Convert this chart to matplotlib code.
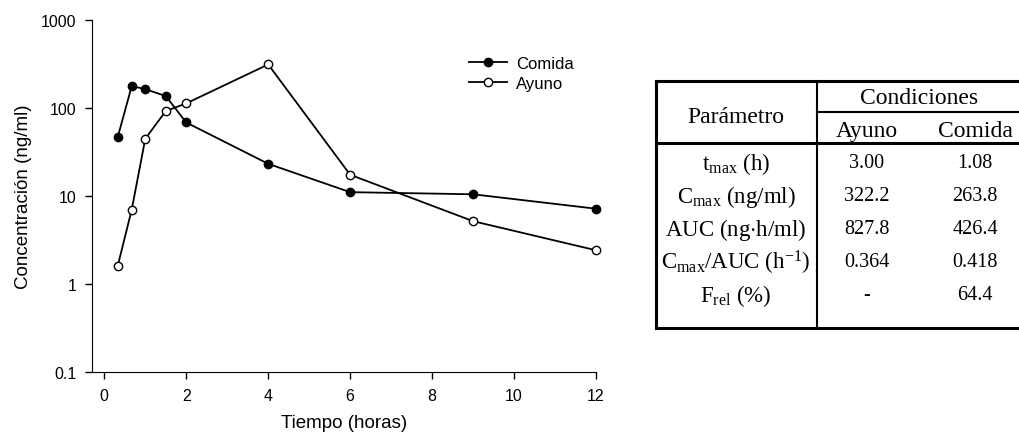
import numpy as np
import matplotlib
matplotlib.use("Agg")
import matplotlib.pyplot as plt

# === Data ===
tiempo = [0.33, 0.67, 1.0, 1.5, 2.0, 4.0, 6.0, 9.0, 12.0]
comida = [47.2, 178, 164, 137, 68.6, 23.3, 11.1, 10.5, 7.2]
ayuno = [1.63, 7.04, 44.8, 92.5, 113, 313, 17.5, 5.2, 2.43]

x_ticks = [0, 2, 4, 6, 8, 10, 12]
y_ticks = [0.1, 1, 10, 100, 1000]
y_ticklabels = ["0.1", "1", "10", "100", "1000"]

param_labels = [r"t$_{\mathrm{max}}$ (h)",
                r"C$_{\mathrm{max}}$ (ng/ml)",
                r"AUC (ng$\cdot$h/ml)",
                r"C$_{\mathrm{max}}$/AUC (h$^{\mathrm{-1}}$)",
                r"F$_{\mathrm{rel}}$ (%)"]
col_ayuno = ["3.00", "322.2", "827.8", "0.364", "-"]
col_comida = ["1.08", "263.8", "426.4", "0.418", "64.4"]

plt.rcParams["font.family"] = ["Liberation Sans", "DejaVu Sans"]
plt.rcParams["mathtext.fontset"] = "custom"
plt.rcParams["mathtext.rm"] = "Liberation Serif"
plt.rcParams["mathtext.it"] = "Liberation Serif:italic"

W, H = 1019, 439
fig = plt.figure(figsize=(W / 100, H / 100), dpi=100)

# === Plot ===
ax = fig.add_axes([92 / W, 1 - 373.3 / H, (596 - 92) / W, (373.3 - 21) / H])
ax.plot(tiempo, comida, color="black", lw=1.3, marker="o", ms=6,
        mfc="black", mec="black", mew=1, label="Comida", clip_on=False)
ax.plot(tiempo, ayuno, color="black", lw=1.3, marker="o", ms=6,
        mfc="white", mec="black", mew=1, label="Ayuno", clip_on=False)
ax.set_yscale("log")
ax.set_ylim(0.1, 1000)
ax.set_xlim(-0.3, 12)
ax.set_xticks(x_ticks)
ax.set_yticks(y_ticks)
ax.set_yticklabels(y_ticklabels)
ax.yaxis.set_minor_locator(matplotlib.ticker.NullLocator())
ax.spines["top"].set_visible(False)
ax.spines["right"].set_visible(False)
ax.tick_params(direction="out", length=5, width=1, labelsize=11.5, pad=6)
ax.set_xlabel("Tiempo (horas)", fontsize=13.5, labelpad=8)
ax.set_ylabel("Concentración (ng/ml)", fontsize=13.5, labelpad=7)
ax.legend(loc="upper left", bbox_to_anchor=(0.735, 0.917), frameon=False,
          fontsize=12, handlelength=2.3, handletextpad=0.5, labelspacing=0.3,
          borderaxespad=0)

# === Table (drawn in pixel coords) ===
tb = fig.add_axes([0, 0, 1, 1])
tb.set_xlim(0, W)
tb.set_ylim(H, 0)
tb.axis("off")
x0, xm, x1 = 656, 817, 1019
y_top, y_mid, y_hdr, y_bot = 82, 112.5, 144, 329
for y, lw, xa in [(y_top, 2.2, x0), (y_hdr, 2.2, x0), (y_bot, 2.2, x0), (y_mid, 1.5, xm)]:
    tb.plot([xa, x1], [y, y], color="black", lw=lw, solid_capstyle="projecting")
tb.plot([x0, x0], [y_top, y_bot], color="black", lw=2.2, solid_capstyle="projecting")
tb.plot([xm, xm], [y_top, y_bot], color="black", lw=1.5, solid_capstyle="projecting")

serif = {"family": ["Liberation Serif", "DejaVu Serif"]}
tb.text(736, 118, "Parámetro", fontsize=17, ha="center", va="center", fontdict=serif)
tb.text(919, 99, "Condiciones", fontsize=17, ha="center", va="center", fontdict=serif)
tb.text(867, 132, "Ayuno", fontsize=17, ha="center", va="center", fontdict=serif)
tb.text(975, 132, "Comida", fontsize=17, ha="center", va="center", fontdict=serif)
row_y = [164, 197, 230, 263, 296]
for yy, p, a, c in zip(row_y, param_labels, col_ayuno, col_comida):
    tb.text(736, yy, p, fontsize=16.5, ha="center", va="center", fontdict=serif)
    tb.text(867, yy, a, fontsize=14.5, ha="center", va="center", fontdict=serif)
    tb.text(975, yy, c, fontsize=14.5, ha="center", va="center", fontdict=serif)

fig.savefig("out.png", dpi=100)
